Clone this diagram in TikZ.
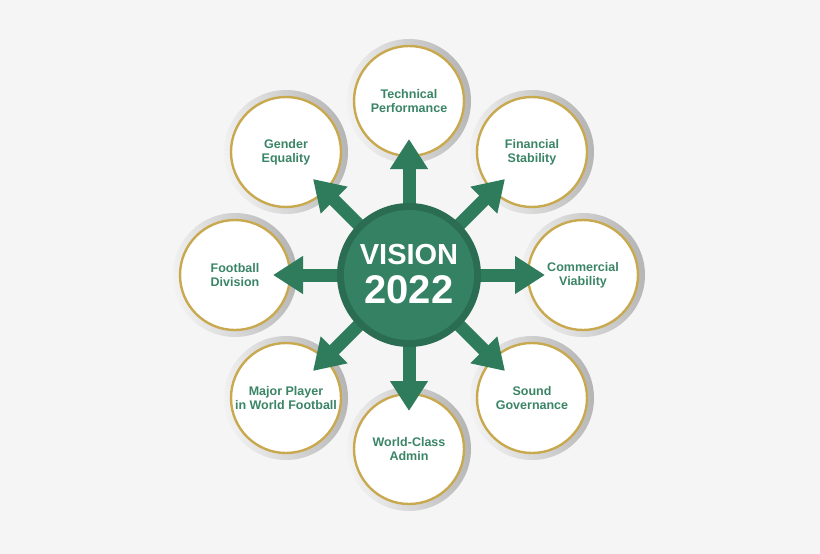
\documentclass[tikz,border=0pt]{standalone}
\usepackage{fontspec}
\setmainfont{Liberation Sans}
\usetikzlibrary{arrows.meta}
\definecolor{bg}{HTML}{F5F5F5}
\definecolor{hubdark}{HTML}{2A6D52}
\definecolor{hubgreen}{HTML}{348164}
\definecolor{arrgreen}{HTML}{2F7C5D}
\definecolor{labgreen}{HTML}{3B8567}
\definecolor{gold}{HTML}{C9A94F}
\definecolor{silverlight}{HTML}{F2F2F2}
\definecolor{silverdark}{HTML}{B5B5B5}
\tikzset{
  ring/.style={left color=silverlight, right color=silverdark, shading angle=100},
  pillar/.style={circle, fill=white, draw=gold, line width=2.4pt, minimum size=110pt, inner sep=0pt,
    align=center, font=\bfseries\fontsize{12.5}{14}\selectfont, text=labgreen},
  spoke/.style={draw=arrgreen, line width=13pt, -{Triangle[width=36pt,length=30pt]}},
  hubouter/.style={circle, fill=hubdark, minimum size=144pt, inner sep=0pt},
  hubinner/.style={circle, fill=hubgreen, minimum size=130pt, inner sep=0pt},
  hubtext/.style={anchor=base, text=white, inner sep=0pt, font=\bfseries}
}
\begin{document}
\begin{tikzpicture}[x=1pt,y=-1pt]
\fill[bg] (0,0) rectangle (820,554);
\useasboundingbox (0,0) rectangle (820,554);
% centres
\coordinate (hc) at (409,275);
\coordinate (c1) at (409,101);
\coordinate (c2) at (532,152);
\coordinate (c3) at (583,275);
\coordinate (c4) at (532,398);
\coordinate (c5) at (409,449);
\coordinate (c6) at (286,398);
\coordinate (c7) at (235,275);
\coordinate (c8) at (286,152);
% arrow tips
\coordinate (t1) at (409,139);
\coordinate (t2) at (505,179);
\coordinate (t3) at (545,275);
\coordinate (t4) at (505,371);
\coordinate (t5) at (409,411);
\coordinate (t6) at (313,371);
\coordinate (t7) at (273,275);
\coordinate (t8) at (313,179);
% silver rings
\foreach \i in {1,...,8}{
  \shade[ring] (c\i) circle (62pt);
}
% pillars
\node[pillar] (p1) at (c1) {Technical\\Performance};
\node[pillar] (p2) at (c2) {Financial\\Stability};
\node[pillar] (p3) at (c3) {Commercial\\Viability};
\node[pillar] (p4) at (c4) {Sound\\Governance};
\node[pillar] (p5) at (c5) {World-Class\\Admin};
\node[pillar] (p6) at (c6) {Major Player\\in World Football};
\node[pillar] (p7) at (c7) {Football\\Division};
\node[pillar] (p8) at (c8) {Gender\\Equality};
% spokes
\foreach \i in {1,...,8}{
  \draw[spoke] (hc) -- (t\i);
}
% hub
\node[hubouter] (hubo) at (hc) {};
\node[hubinner] (hub) at (hc) {};
\node[hubtext, font=\bfseries\fontsize{29}{30}\selectfont] (vis) at (409,264) {VISION};
\node[hubtext, font=\bfseries\fontsize{40}{40}\selectfont] (yr) at (409,303) {2022};
\end{tikzpicture}
\end{document}
